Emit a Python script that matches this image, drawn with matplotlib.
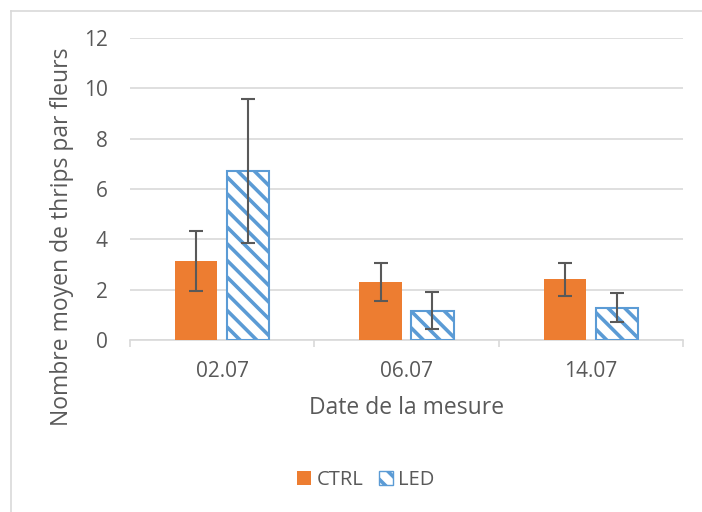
import matplotlib.pyplot as plt
import numpy as np
from matplotlib.lines import Line2D
from matplotlib.patches import Patch

dates = ['02.07', '06.07', '14.07']
ctrl = [3.15, 2.29, 2.41]
ctrl_err = [1.19, 0.75, 0.66]
led = [6.71, 1.16, 1.28]
led_err = [2.85, 0.73, 0.58]

plt.rcParams['font.family'] = ['Open Sans', 'DejaVu Sans']
plt.rcParams['hatch.linewidth'] = 2.6
plt.rcParams['hatch.color'] = '#5B9BD5'

orange = '#ED7D31'
blue = '#5B9BD5'
grey_txt = '#595959'
grid_c = '#D9D9D9'

fig = plt.figure(figsize=(7.02, 5.12), dpi=100)
ax = fig.add_axes([130 / 702, 1 - 340 / 512, 553 / 702, 302 / 512])

# chart frame (top and left edges visible)
fig.add_artist(Line2D([11 / 702, 11 / 702], [0, 1 - 11 / 512], transform=fig.transFigure,
                      color=grid_c, lw=1.2))
fig.add_artist(Line2D([11 / 702, 1], [1 - 11 / 512, 1 - 11 / 512], transform=fig.transFigure,
                      color=grid_c, lw=1.2))

x = np.arange(len(dates))
w = 0.228
off = 0.141

ax.bar(x - off, ctrl, w, color=orange, zorder=3)
ax.bar(x + off, led, w, color='white', edgecolor=blue, hatch='\\\\', lw=1.5, zorder=3)
ax.errorbar(x - off, ctrl, yerr=ctrl_err, fmt='none', ecolor=grey_txt, elinewidth=1.5,
            capsize=5, capthick=1.5, zorder=4)
ax.errorbar(x + off, led, yerr=led_err, fmt='none', ecolor=grey_txt, elinewidth=1.5,
            capsize=5, capthick=1.5, zorder=4)

ax.set_xlim(-0.5, 2.5)
ax.set_ylim(0, 12)
ax.set_yticks(range(0, 13, 2))
ax.yaxis.grid(True, color=grid_c, lw=1.2, zorder=0)
ax.set_axisbelow(True)
for s in ['top', 'right', 'left']:
    ax.spines[s].set_visible(False)
ax.spines['bottom'].set_color(grid_c)
ax.spines['bottom'].set_linewidth(1.2)

ax.set_xticks(x)
ax.set_xticklabels(dates)
ax.set_xticks([-0.5, 0.5, 1.5, 2.5], minor=True)
ax.tick_params(axis='x', which='major', length=0, pad=15, labelsize=15, labelcolor=grey_txt)
ax.tick_params(axis='x', which='minor', length=5, color=grid_c, width=1.2)
ax.tick_params(axis='y', length=0, pad=16, labelsize=15, labelcolor=grey_txt)

ax.set_xlabel('Date de la mesure', fontsize=16.5, color=grey_txt)
ax.xaxis.label.set_va('center')
ax.xaxis.set_label_coords(0.5, -0.225)
ax.set_ylabel('Nombre moyen de thrips par fleurs', fontsize=16.5, color=grey_txt)
ax.yaxis.label.set_va('center')
ax.yaxis.set_label_coords(-0.123, 0.341)

handles = [Patch(facecolor=orange, label='CTRL'),
           Patch(facecolor='white', edgecolor=blue, hatch='\\\\', label='LED')]
fig.legend(handles=handles, loc='center', bbox_to_anchor=(366 / 702, 1 - 480 / 512), ncol=2,
           frameon=False, fontsize=14.5, labelcolor=grey_txt, handlelength=0.7, handleheight=0.7,
           handletextpad=0.25, columnspacing=0.8)

fig.savefig('out.png', dpi=100)
